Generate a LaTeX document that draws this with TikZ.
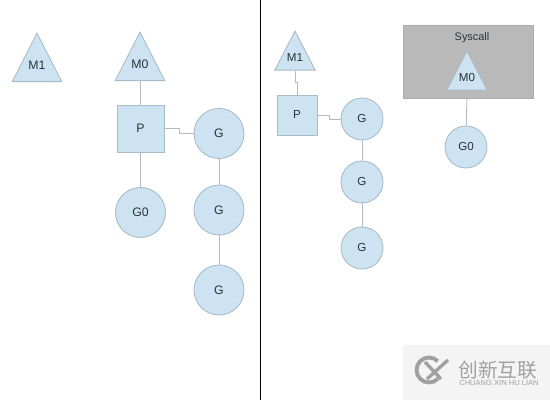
\documentclass[tikz,border=0pt]{standalone}
\usepackage{fontspec}
\setsansfont{Liberation Sans}
\newfontfamily\cjkfont{Noto Sans CJK SC}
\usetikzlibrary{shapes.geometric, positioning, calc}

\begin{document}
\begin{tikzpicture}[
  x=0.2mm, y=-0.2mm,
  % --- shared block base ---
  blkbase/.style={
    draw=borderblue, fill=fillblue, line width=0.5pt, inner sep=0pt,
    text=inkdark, align=center, font=\fontsize{7}{8}\selectfont\sffamily
  },
  % --- block types ---
  mtri/.style={blkbase, isosceles triangle, shape border rotate=90,
    isosceles triangle stretches, minimum width=9.9mm, minimum height=9.7mm,
    text depth=1.3mm, anchor=apex},
  mtrism/.style={mtri, minimum width=8.1mm, minimum height=7.8mm, text depth=1.2mm,
    font=\fontsize{6.6}{8}\selectfont\sffamily},
  pbox/.style={blkbase, rectangle, minimum size=9.4mm},
  pboxsm/.style={pbox, minimum size=8mm, font=\fontsize{6.6}{8}\selectfont\sffamily},
  gcirc/.style={blkbase, circle, minimum size=10mm},
  gcircsm/.style={blkbase, circle, minimum size=8.4mm, font=\fontsize{6.6}{8}\selectfont\sffamily},
  sysbox/.style={draw=sysedge, fill=sysfill, line width=0.4pt, minimum width=26mm, minimum height=14.6mm},
  % --- labels ---
  syslbl/.style={font=\fontsize{6.2}{7}\selectfont\sffamily, text=inkdark, inner sep=0pt},
  % --- arrows ---
  link/.style={draw=linegray, line width=0.5pt},
]
\definecolor{fillblue}{HTML}{CEE3F1}
\definecolor{borderblue}{HTML}{A9BBC8}
\definecolor{inkdark}{HTML}{28323C}
\definecolor{linegray}{HTML}{B4BABE}
\definecolor{sysfill}{HTML}{B9B9B9}
\definecolor{sysedge}{HTML}{ABABAB}
\definecolor{markgray}{HTML}{A0A0A0}
\definecolor{markbg}{HTML}{F4F4F4}

\useasboundingbox (0,0) rectangle (550,400);

% ===================== DIVIDER =====================

\coordinate (divtop) at (260.5,0);
\coordinate (divbot) at (260.5,400);
\draw[black, line width=0.55pt] (divtop) -- (divbot);

% ===================== LEFT PANEL =====================

\node[mtri] (lm1) at (37,32) {M1};
\node[mtri] (lm0) at (140,31) {M0};
\node[pbox] (lp) at (140.5,128.5) {P};
\node[gcirc] (lg0) at (140.5,212.5) {G0};
\node[gcirc] (lg1) at (219,133.5) {G};
\node[gcirc] (lg2) at (219,210) {G};
\node[gcirc] (lg3) at (219,290) {G};

\draw[link] (lm0.lower side) -- ++(0,12) -| (lp.north);
\draw[link] (lp.east) -- ++(15,0) |- (lg1.west);
\draw[link] (lp) -- (lg0);
\draw[link] (lg1) -- (lg2);
\draw[link] (lg2) -- (lg3);

% ===================== RIGHT PANEL =====================

\node[sysbox] (sys) at (468,61.5) {};
\node[syslbl] (syslabel) at (472,37.5) {Syscall};

\node[mtrism] (rm1) at (295,30) {M1};
\node[mtrism] (rm0) at (467,50) {M0};
\node[pboxsm] (rp) at (297,115) {P};
\node[gcircsm] (rg1) at (362,119) {G};
\node[gcircsm] (rg2) at (362,182) {G};
\node[gcircsm] (rg3) at (362,248) {G};
\node[gcircsm] (rg0) at (466,147) {G0};

\draw[link] (rm1.lower side) -- ++(0,12) -| (rp.north);
\draw[link] (rp.east) -- ++(12,0) |- (rg1.west);
\draw[link] (rg1) -- (rg2);
\draw[link] (rg2) -- (rg3);
\draw[link] (rm0.lower side) -- (rg0);

% ===================== WATERMARK =====================

\node[fill=markbg, minimum width=29.4mm, minimum height=11mm, inner sep=0pt] (mark) at (477,372.5) {};
\coordinate (logoc) at (429,370);
\draw[markgray, line width=2.2pt] ([shift={(45:2.5mm)}]logoc) arc[start angle=45, end angle=315, radius=2.5mm];
\draw[markgray, line width=1.9pt] (425,362) -- (441,379);
\draw[markgray, line width=1.9pt] (448,360) -- (427,379);
\node[font=\cjkfont\fontsize{11.2}{12}\selectfont, text=markgray, inner sep=0pt] (markzh) at (498,370) {创新互联};
\node[font=\fontsize{4.3}{5}\selectfont\sffamily, text=markgray, inner sep=0pt] (markpy) at (499,383) {CHUANG XIN HU LIAN};

\end{tikzpicture}
\end{document}
